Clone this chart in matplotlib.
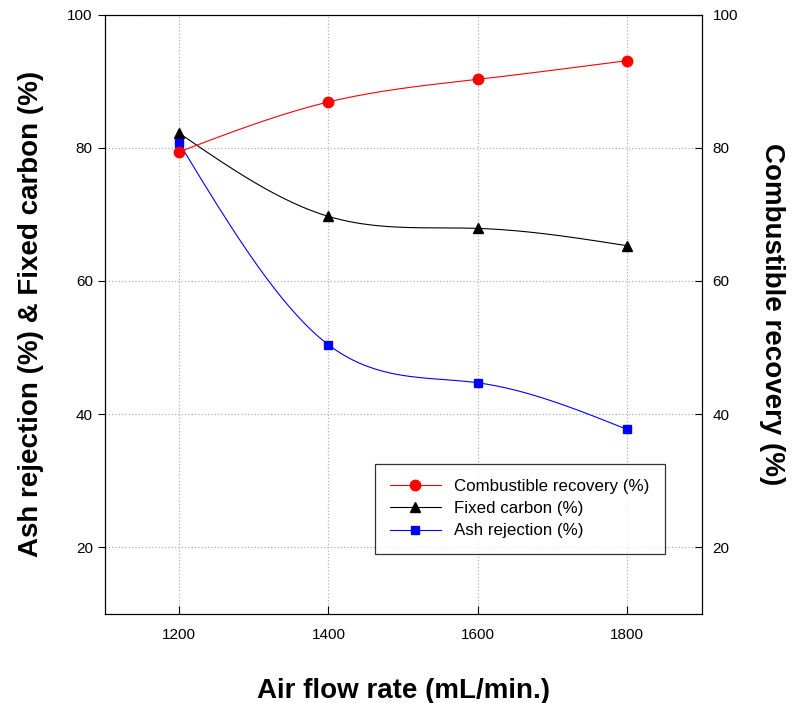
import numpy as np
import matplotlib.pyplot as plt

plt.rcParams['font.family'] = ['Liberation Sans', 'DejaVu Sans']

# data
air_flow = [1200, 1400, 1600, 1800]
combustible = [79.4, 86.9, 90.3, 93.1]
fixed_carbon = [82.2, 69.7, 67.9, 65.3]
ash_rejection = [80.7, 50.4, 44.7, 37.7]


def spline(x, y, n=200):
    # natural cubic spline through the points, for a smooth line like SigmaPlot
    x = np.asarray(x, float)
    y = np.asarray(y, float)
    k = len(x)
    h = np.diff(x)
    A = np.zeros((k, k))
    b = np.zeros(k)
    A[0, 0] = A[-1, -1] = 1
    for i in range(1, k - 1):
        A[i, i - 1] = h[i - 1]
        A[i, i] = 2 * (h[i - 1] + h[i])
        A[i, i + 1] = h[i]
        b[i] = 6 * ((y[i + 1] - y[i]) / h[i] - (y[i] - y[i - 1]) / h[i - 1])
    m = np.linalg.solve(A, b)
    xs = np.linspace(x[0], x[-1], n)
    idx = np.clip(np.searchsorted(x, xs) - 1, 0, k - 2)
    t = xs - x[idx]
    hi = h[idx]
    a = y[idx]
    bb = (y[idx + 1] - y[idx]) / hi - hi * (2 * m[idx] + m[idx + 1]) / 6
    c = m[idx] / 2
    d = (m[idx + 1] - m[idx]) / (6 * hi)
    return xs, a + bb * t + c * t ** 2 + d * t ** 3


fig = plt.figure(figsize=(7.99, 7.03), dpi=100)
ax = fig.add_axes([0.131, 0.127, 0.747, 0.852])
ax2 = ax.twinx()

series = [
    (combustible, ax2, 'red', 'o', 7.5, 'Combustible recovery (%)'),
    (fixed_carbon, ax, 'black', '^', 7.5, 'Fixed carbon (%)'),
    (ash_rejection, ax, 'blue', 's', 6, 'Ash rejection (%)'),
]
handles = []
for vals, a, col, mk, ms, lab in series:
    xs, ys = spline(air_flow, vals)
    a.plot(xs, ys, color=col, lw=0.8)
    a.plot(air_flow, vals, linestyle='none', marker=mk, color=col, ms=ms)
    h, = ax.plot([], [], color=col, lw=0.8, marker=mk, ms=ms, label=lab)
    handles.append(h)

for a in (ax, ax2):
    a.set_xlim(1100, 1900)
    a.set_ylim(10, 100)
    a.set_yticks([20, 40, 60, 80, 100])
    a.tick_params(labelsize=11)

ax.set_xticks(air_flow)
ax.grid(True, linestyle=':', color='#b0b0b0', lw=0.9)
ax.tick_params(axis='x', direction='in', length=6, pad=10)
ax.tick_params(axis='y', direction='out', length=5)
ax2.tick_params(axis='y', direction='in', length=5, pad=8)

ax.set_xlabel('Air flow rate (mL/min.)', fontsize=20, fontweight='bold', labelpad=26)
ax.set_ylabel('Ash rejection (%) & Fixed carbon (%)', fontsize=20, fontweight='bold', labelpad=17)
ax2.set_ylabel('Combustible recovery (%)', fontsize=20, fontweight='bold', rotation=270, labelpad=34)

leg = ax.legend(handles=handles, loc='lower left', bbox_to_anchor=(0.438, 0.086),
                fontsize=12.2, frameon=True, fancybox=False, edgecolor='black',
                handlelength=3.0, handletextpad=0.8, borderpad=0.9, labelspacing=0.42)
leg.get_frame().set_linewidth(0.9)

fig.savefig('out.png', dpi=100)
